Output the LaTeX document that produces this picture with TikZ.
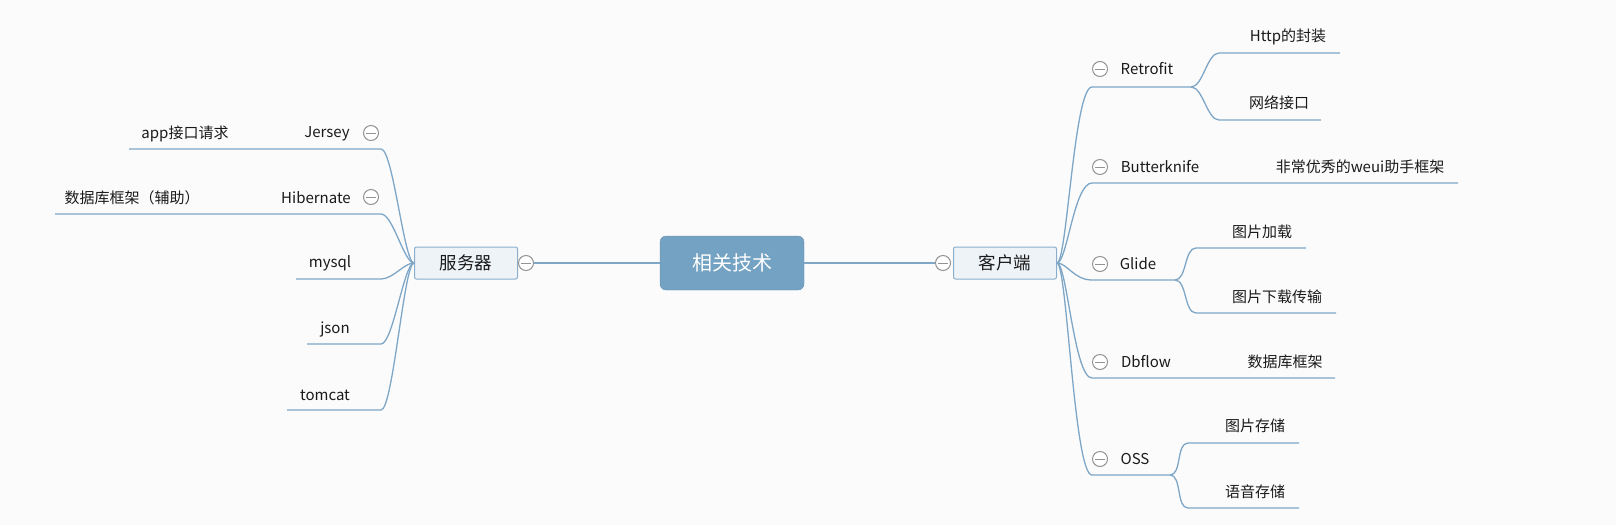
\documentclass[tikz,border=0pt]{standalone}
\usepackage{fontspec}
\setmainfont{Noto Sans CJK SC}
\definecolor{bg}{HTML}{FBFBFC}
\definecolor{ln}{HTML}{7EA6C6}
\definecolor{cfill}{HTML}{74A2C2}
\definecolor{bfill}{HTML}{EEF3F8}
\definecolor{bdraw}{HTML}{8AAECB}
\definecolor{txt}{HTML}{1A1A1A}
\tikzset{
  lk/.style={draw=ln, line width=1.3pt},
  sub/.style={inner sep=0pt, text=txt, font=\fontsize{15}{17}\selectfont},
  mainbox/.style={draw=bdraw, fill=bfill, line width=1pt, rounded corners=2pt, minimum width=103pt, minimum height=32pt, text=txt, font=\fontsize{17.5}{19}\selectfont},
  centerbox/.style={fill=cfill, draw=cfill!90!black, rounded corners=6pt, minimum width=144pt, minimum height=54pt, text=white, font=\fontsize{20}{22}\selectfont},
  collapse/.style={circle, draw=gray!85, fill=white, line width=1pt, minimum size=15pt, inner sep=0pt,
    path picture={\draw[gray!85, line width=1pt] ([xshift=2.5pt]path picture bounding box.west) -- ([xshift=-2.5pt]path picture bounding box.east);}},
}
\begin{document}
\begin{tikzpicture}[x=1pt,y=-1pt]
\useasboundingbox (0,0) rectangle (1616,525);
\fill[bg] (0,0) rectangle (1616,525);

% center and main topics
\node[centerbox] (c) at (732,263) {相关技术};
\node[mainbox] (s) at (466,263) {服务器};
\node[mainbox] (k) at (1005,263) {客户端};
\node[collapse] (sc) at (526,263) {};
\node[collapse] (kc) at (943,263) {};
\draw[lk] (c.west) -- (sc.east);
\draw[lk] (c.east) -- (kc.west);

% ---------- left side ----------
\node[sub] (jersey) at (327,134) {Jersey};
\node[sub] (app) at (185,134) {app接口请求};
\node[collapse] at (371,133) {};
\coordinate (jL) at (129,149); \coordinate (jR) at (381,149);

\node[sub] (hib) at (316,198) {Hibernate};
\node[sub] (hibc) at (132,198) {数据库框架（辅助）};
\node[collapse] at (371,197) {};
\coordinate (hL) at (55,214); \coordinate (hR) at (381,214);

\node[sub] (mysql) at (330,263) {mysql};
\coordinate (mL) at (296,279); \coordinate (mR) at (381,279);

\node[sub] (json) at (335,329) {json};
\coordinate (nL) at (307,344); \coordinate (nR) at (381,344);

\node[sub] (tomcat) at (325,395) {tomcat};
\coordinate (tL) at (287,410); \coordinate (tR) at (381,410);

\foreach \a/\b in {jL/jR,hL/hR,mL/mR,nL/nR,tL/tR}{
  \draw[lk] (\a) -- (\b) .. controls +(12,0) and +(-10,0) .. (s.west);
}

% ---------- right side ----------
\node[collapse] at (1100,69) {};
\node[sub] (retro) at (1147,69) {Retrofit};
\coordinate (rL) at (1092,87); \coordinate (rR) at (1191,87);
\node[sub] (http) at (1288,37) {Http的封装};
\coordinate (r1L) at (1219,53); \coordinate (r1R) at (1340,53);
\node[sub] (net) at (1279,103) {网络接口};
\coordinate (r2L) at (1219,120); \coordinate (r2R) at (1321,120);

\node[collapse] at (1100,167) {};
\node[sub] (butter) at (1160,167) {Butterknife};
\node[sub] (weui) at (1360,167) {非常优秀的weui助手框架};
\coordinate (bL) at (1092,183); \coordinate (bR) at (1458,183);

\node[collapse] at (1100,264) {};
\node[sub] (glide) at (1138,264) {Glide};
\coordinate (gL) at (1092,280); \coordinate (gR) at (1175,280);
\node[sub] (g1) at (1262,232) {图片加载};
\coordinate (g1L) at (1196,248); \coordinate (g1R) at (1306,248);
\node[sub] (g2) at (1277,297) {图片下载传输};
\coordinate (g2L) at (1196,313); \coordinate (g2R) at (1336,313);

\node[collapse] at (1100,362) {};
\node[sub] (dbflow) at (1146,362) {Dbflow};
\node[sub] (dbc) at (1285,362) {数据库框架};
\coordinate (dL) at (1092,378); \coordinate (dR) at (1335,378);

\node[collapse] at (1100,459) {};
\node[sub] (oss) at (1135,459) {OSS};
\coordinate (oL) at (1092,475); \coordinate (oR) at (1170,475);
\node[sub] (o1) at (1255,426) {图片存储};
\coordinate (o1L) at (1188,443); \coordinate (o1R) at (1299,443);
\node[sub] (o2) at (1255,492) {语音存储};
\coordinate (o2L) at (1188,508); \coordinate (o2R) at (1299,508);

\foreach \a/\b in {rL/rR,bL/bR,gL/gR,dL/dR,oL/oR}{
  \draw[lk] (k.east) .. controls +(10,0) and +(-18,0) .. (\a) -- (\b);
}
\foreach \p/\a/\b in {rR/r1L/r1R,rR/r2L/r2R,gR/g1L/g1R,gR/g2L/g2R,oR/o1L/o1R,oR/o2L/o2R}{
  \draw[lk] (\p) .. controls +(12,0) and +(-12,0) .. (\a) -- (\b);
}
\end{tikzpicture}
\end{document}
